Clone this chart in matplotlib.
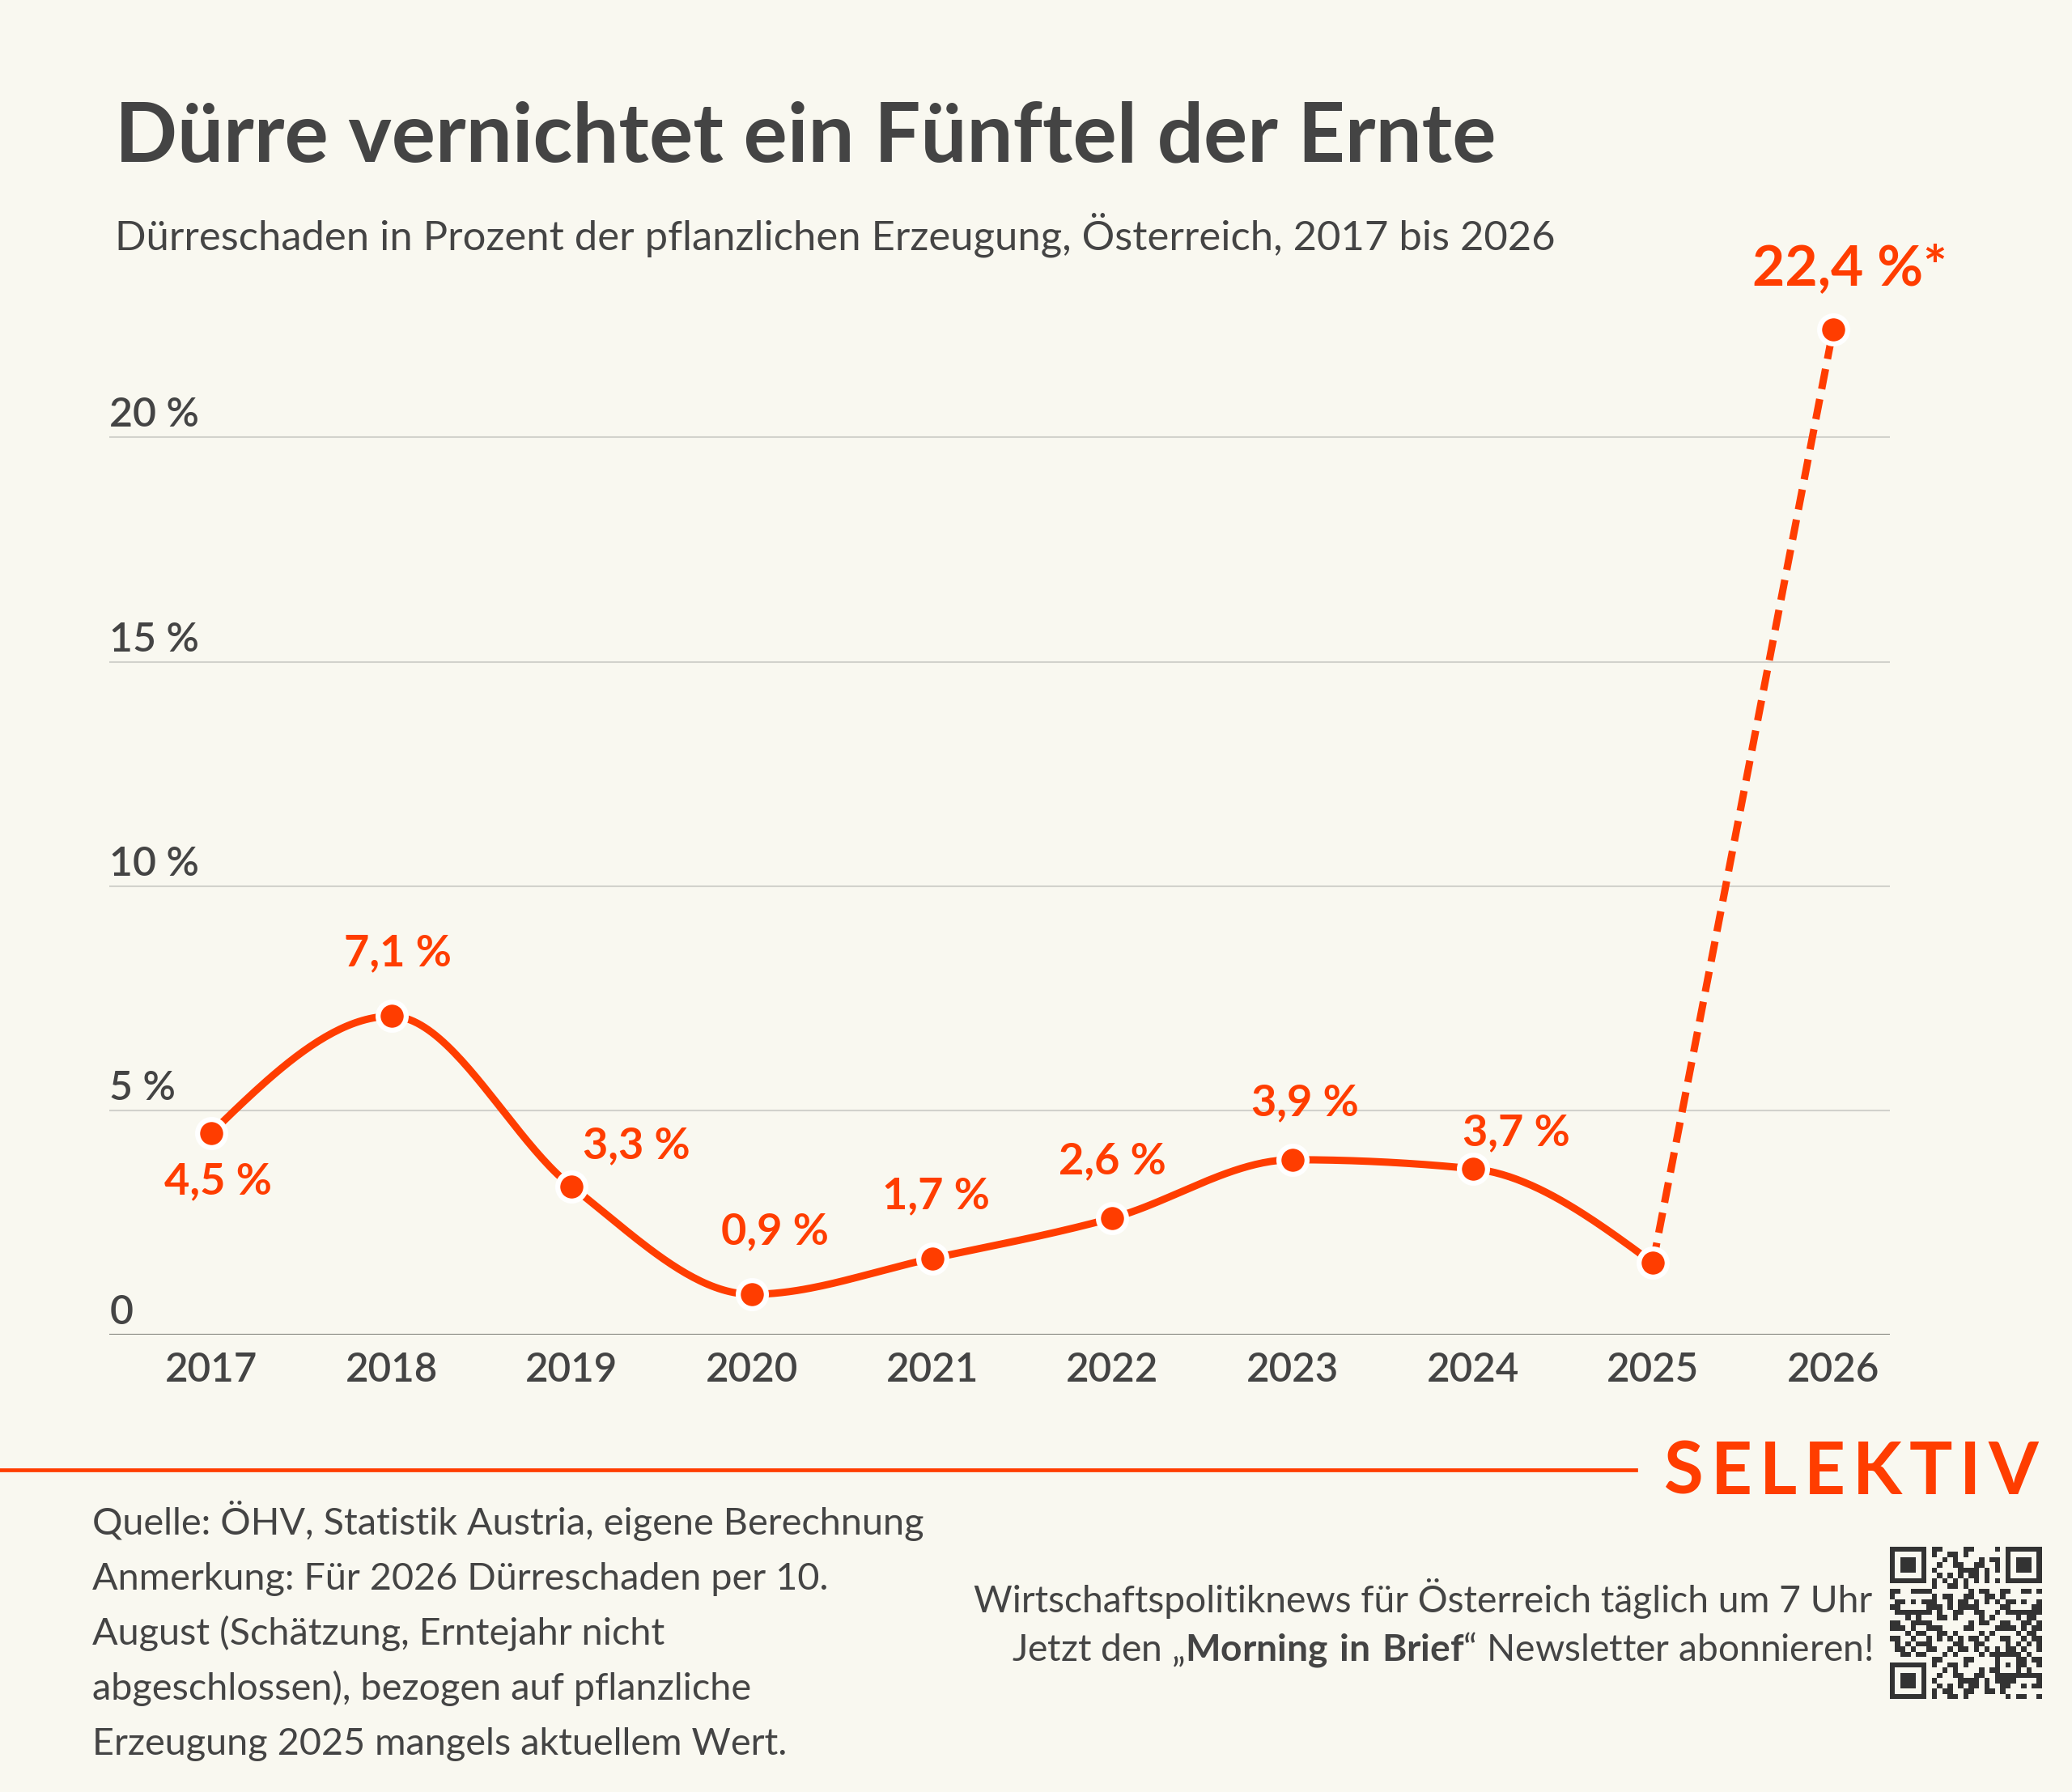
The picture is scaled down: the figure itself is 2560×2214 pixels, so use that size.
import matplotlib.pyplot as plt
import numpy as np
from matplotlib.transforms import blended_transform_factory

# Daten
jahre = [2017, 2018, 2019, 2020, 2021, 2022, 2023, 2024, 2025, 2026]
schaden = [4.5, 7.1, 3.3, 0.9, 1.7, 2.6, 3.9, 3.7, 1.6, 22.4]
labels = ["4,5 %", "7,1 %", "3,3 %", "0,9 %", "1,7 %", "2,6 %", "3,9 %", "3,7 %", None, "22,4 %*"]
# Label-Versatz in Pixeln (dx, dy)
label_offsets = [(8, -60), (8, 78), (80, 50), (28, 77), (5, 77), (0, 70), (15, 70), (54, 44), None, (21, 75)]
y_ticks = [0, 5, 10, 15, 20]
y_ticklabels = ["0", "5 %", "10 %", "15 %", "20 %"]

ORANGE = "#FF3D00"
GRAU = "#444444"
BG = "#F9F8F0"
FONT = ["Lato", "DejaVu Sans"]

plt.rcParams['font.family'] = FONT
plt.rcParams['mathtext.fontset'] = 'custom'
plt.rcParams['mathtext.rm'] = 'Lato'
plt.rcParams['mathtext.bf'] = 'Lato:bold'


def monotone_x(x, y, n=400):
    """Monotone kubische Interpolation (wie d3.curveMonotoneX)."""
    x = np.asarray(x, float)
    y = np.asarray(y, float)
    h = np.diff(x)
    s = np.diff(y) / h
    m = np.zeros(len(x))
    for i in range(1, len(x) - 1):
        p = (s[i - 1] * h[i] + s[i] * h[i - 1]) / (h[i - 1] + h[i])
        m[i] = (np.sign(s[i - 1]) + np.sign(s[i])) * min(abs(s[i - 1]), abs(s[i]), 0.5 * abs(p))
    m[0] = (3 * s[0] - m[1]) / 2
    m[-1] = (3 * s[-1] - m[-2]) / 2
    xs, ys = [], []
    for i in range(len(x) - 1):
        t = np.linspace(0, 1, n // (len(x) - 1))
        h00 = 2 * t**3 - 3 * t**2 + 1
        h10 = t**3 - 2 * t**2 + t
        h01 = -2 * t**3 + 3 * t**2
        h11 = t**3 - t**2
        xs.append(x[i] + t * h[i])
        ys.append(h00 * y[i] + h10 * h[i] * m[i] + h01 * y[i + 1] + h11 * h[i] * m[i + 1])
    return np.concatenate(xs), np.concatenate(ys)


fig = plt.figure(figsize=(25.6, 22.14), dpi=100, facecolor=BG)
ax = fig.add_axes([0.0529, 0.2552, 0.8592, 0.5758])
ax.set_facecolor(BG)
ax.set_xlim(2016.435, 2026.315)
ax.set_ylim(0, 23)

# Gitterlinien
for v in y_ticks[1:]:
    ax.axhline(v, color="#D2D2CC", lw=1.5, zorder=1)
ax.axhline(0, color="#8C8C86", lw=1.6, zorder=1)

trans = blended_transform_factory(ax.transAxes, ax.transData)
for v, lab in zip(y_ticks, y_ticklabels):
    ax.annotate(lab, (0, v), xycoords=trans, xytext=(0, 5),
                textcoords="offset pixels", ha="left", va="bottom", fontsize=36,
                color=GRAU, fontweight="semibold")

# Linie
xs, ys = monotone_x(jahre[:-1], schaden[:-1])
ax.plot(xs, ys, color=ORANGE, lw=6.5, solid_capstyle="round", zorder=3, clip_on=False)
ax.plot(jahre[-2:], schaden[-2:], color=ORANGE, lw=6.5, linestyle=(0, (2.8, 1.4)),
        dash_capstyle="butt", zorder=3, clip_on=False)
ax.plot(jahre, schaden, "o", ms=25, mfc=ORANGE, mec="white", mew=4.5, zorder=4, clip_on=False)

for j, v, lab, off in zip(jahre, schaden, labels, label_offsets):
    if lab is None:
        continue
    size = 50 if j == 2026 else 39
    ax.annotate(lab, (j, v), xytext=off, textcoords="offset pixels", ha="center", va="center",
                fontsize=size, fontweight="bold", color=ORANGE, zorder=5)

ax.set_xticks(jahre)
ax.set_xticklabels([str(j) for j in jahre], fontsize=35.5, color=GRAU, fontweight="semibold")
ax.tick_params(axis="x", length=0, pad=15)
ax.set_yticks([])
for sp in ax.spines.values():
    sp.set_visible(False)

# Titel
fig.text(142 / 2560, 1 - 199 / 2214, "Dürre vernichtet ein Fünftel der Ernte",
         fontsize=73, fontweight="bold", color=GRAU, va="baseline", ha="left")
fig.text(142 / 2560, 1 - 308 / 2214,
         "Dürreschaden in Prozent der pflanzlichen Erzeugung, Österreich, 2017 bis 2026",
         fontsize=36.5, color=GRAU, va="baseline", ha="left")

# Fußzeile
fig.add_artist(plt.Line2D([0, 2021 / 2560], [1 - 1816 / 2214] * 2, color=ORANGE, lw=3.4))

logo = "SELEKTIV"
renderer = fig.canvas.get_renderer()
x_pos = 2056
for ch in logo:
    t = fig.text(x_pos / 2560, 1 - 1846 / 2214, ch, fontsize=64, fontweight="bold",
                 color=ORANGE, va="baseline", ha="left")
    w = t.get_window_extent(renderer).width
    x_pos += w + 9

quelle = ["Quelle: ÖHV, Statistik Austria, eigene Berechnung",
          "Anmerkung: Für 2026 Dürreschaden per 10.",
          "August (Schätzung, Erntejahr nicht",
          "abgeschlossen), bezogen auf pflanzliche",
          "Erzeugung 2025 mangels aktuellem Wert."]
for i, zeile in enumerate(quelle):
    fig.text(114 / 2560, 1 - (1896 + 68 * i) / 2214, zeile, fontsize=33.7, color=GRAU,
             va="baseline", ha="left")

fig.text(2313 / 2560, 1 - 1992 / 2214,
         "Wirtschaftspolitiknews für Österreich täglich um 7 Uhr",
         fontsize=33.2, color=GRAU, va="baseline", ha="right")
fig.text(2313 / 2560, 1 - 2052 / 2214,
         r"Jetzt den „$\bf{Morning\ in\ Brief}$“ Newsletter abonnieren!",
         fontsize=33.2, color=GRAU, va="baseline", ha="right")

# QR-Code (dekorativ)
n = 29
r, c = np.mgrid[0:n, 0:n]
qr = (((r * r * 3 + c * c * 5 + r * c * 7 + r * 11 + c * 2) // 3) % 7 < 3).astype(float)
for (r0, c0) in [(0, 0), (0, n - 7), (n - 7, 0)]:
    qr[max(r0 - 1, 0):r0 + 8, max(c0 - 1, 0):c0 + 8] = 0
    qr[r0:r0 + 7, c0:c0 + 7] = 1
    qr[r0 + 1:r0 + 6, c0 + 1:c0 + 6] = 0
    qr[r0 + 2:r0 + 5, c0 + 2:c0 + 5] = 1
qr[6, 8:n - 8] = (np.arange(8, n - 8) + 1) % 2
qr[8:n - 8, 6] = (np.arange(8, n - 8) + 1) % 2
qr[20:25, 20:25] = 1
qr[21:24, 21:24] = 0
qr[22, 22] = 1
qax = fig.add_axes([2335 / 2560, 1 - 2099 / 2214, 188 / 2560, 188 / 2214])
qax.imshow(qr, cmap=plt.matplotlib.colors.ListedColormap([BG, "#333333"]),
           interpolation="nearest", aspect="auto")
qax.axis("off")

fig.savefig("out.png", dpi=100, facecolor=BG)
